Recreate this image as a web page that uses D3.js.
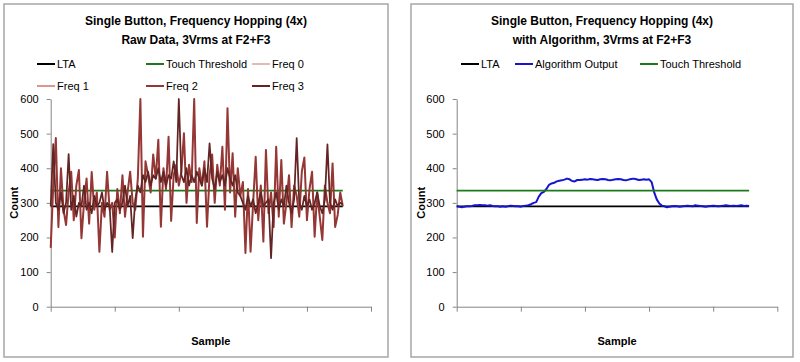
<!DOCTYPE html>
<html>
<head>
<meta charset="utf-8">
<script src="https://cdn.jsdelivr.net/npm/d3@7"></script>
<style>
  html, body { margin: 0; padding: 0; background: #fff; }
  svg { display: block; font-family: "Liberation Sans", Arial, sans-serif; }
</style>
</head>
<body>
<svg id="chart" width="800" height="362"></svg>
<script>
// ---------------- DATA ----------------
const sampleStep = 4;                 // samples between stored points
const xTicks = [0, 100, 200, 300, 400, 500];
const yTicks = [0, 100, 200, 300, 400, 500, 600];
const ltaValue = 290;
const touchThresholdValue = 335;

const leftTitle = ["Single Button, Frequency Hopping (4x)", "Raw Data, 3Vrms at F2+F3"];
const rightTitle = ["Single Button, Frequency Hopping (4x)", "with Algorithm, 3Vrms at F2+F3"];
const leftLegend = ["LTA", "Touch Threshold", "Freq 0", "Freq 1", "Freq 2", "Freq 3"];
const rightLegend = ["LTA", "Algorithm Output", "Touch Threshold"];

// Freq 0 / Freq 1 are hidden beneath Freq 2 / Freq 3 in the picture
const freq0 = [];
const freq1 = [];
const freq2 = [
  170,350,487,230,400,280,236,330,390,250,350,395,198,300,370,240,389,280,330,159,
  300,260,390,280,300,200,340,270,380,260,330,390,300,280,370,
  600,202,420,380,330,440,370,482,231,400,340,491,248,380,410,350,390,501,300,410,
  360,600,242,400,350,420,231,380,440,300,410,350,462,280,573,330,443,260,400,320,360,
  155,340,159,300,433,250,350,188,453,270,330,230,462,260,424,240,300,380,230,350,
  320,260,390,431,250,340,390,202,330,260,193,350,300,270,414,230,265,330,290
];
const freq3 = [
  290,470,300,280,330,270,300,441,280,320,260,300,290,350,280,300,270,320,290,300,
  330,280,300,290,158,300,310,280,300,350,290,320,198,310,350,
  330,380,360,390,350,380,370,400,360,390,350,380,370,420,360,600,380,360,400,350,
  380,360,390,370,350,400,360,472,370,340,390,360,380,350,400,370,350,380,330,320,300,
  280,320,290,310,270,300,330,290,300,310,140,300,330,280,310,290,350,300,270,310,
  487,300,280,320,290,310,280,300,330,290,270,310,469,300,280,310,290,300,295
];
const algorithmOutput = [
  290,289,287,289,290,290,291,293,293,294,293,293,292,293,291,290,290,289,290,289,
  290,292,291,290,290,289,291,292,293,296,300,302,318,328,332,340,352,356,358,362,
  364,365,367,370,368,363,362,366,366,367,368,367,369,368,367,366,368,369,368,366,
  365,367,368,369,368,366,365,367,369,370,368,366,367,368,367,368,360,330,310,298,
  292,290,287,289,290,291,290,289,290,291,292,291,290,293,292,291,290,289,290,291,
  292,291,290,291,292,293,292,291,292,291,292,293,291,292,291
];

// ---------------- DRAW ----------------
const svg = d3.select("#chart");
const axisColor = "#868686";
const colors = {
  LTA: "#000000",
  "Touch Threshold": "#1c7a1c",
  "Freq 0": "#e6b9b8",
  "Freq 1": "#d99694",
  "Freq 2": "#953735",
  "Freq 3": "#632523",
  "Algorithm Output": "#1515d0"
};

function panel(opt) {
  const g = svg.append("g");
  // frame
  g.append("rect")
    .attr("x", opt.frame[0]).attr("y", opt.frame[1])
    .attr("width", opt.frame[2] - opt.frame[0]).attr("height", opt.frame[3] - opt.frame[1])
    .attr("fill", "#fff").attr("stroke", "#a6a6a6").attr("stroke-width", 1.5);

  const x = d3.scaleLinear().domain([xTicks[0], xTicks[xTicks.length - 1]]).range([opt.left, opt.right]);
  const y = d3.scaleLinear().domain([yTicks[0], yTicks[yTicks.length - 1]]).range([opt.bottom, opt.top]);

  // title
  const cx = (opt.frame[0] + opt.frame[2]) / 2;
  opt.title.forEach((t, i) => {
    g.append("text").attr("x", cx).attr("y", 25 + i * 19)
      .attr("text-anchor", "middle").attr("font-weight", "bold").attr("font-size", 12)
      .attr("fill", "#000").text(t);
  });

  // axes
  const ya = g.append("g").attr("transform", `translate(${opt.left},0)`)
    .call(d3.axisLeft(y).tickValues(yTicks).tickSize(4).tickSizeOuter(0).tickPadding(8));
  const xa = g.append("g").attr("transform", `translate(0,${opt.bottom})`)
    .call(d3.axisBottom(x).tickValues(xTicks).tickSize(5).tickSizeOuter(0).tickFormat(""));
  [ya, xa].forEach(a => {
    a.select(".domain").attr("stroke", axisColor);
    a.selectAll(".tick line").attr("stroke", axisColor);
    a.selectAll("text").attr("font-size", 11).attr("fill", "#000")
      .attr("font-family", "Liberation Sans, Arial, sans-serif");
  });

  // axis titles
  g.append("text").attr("transform", `translate(${opt.countX},${(opt.top + opt.bottom) / 2}) rotate(-90)`)
    .attr("text-anchor", "middle").attr("dy", "0.35em").attr("font-weight", "bold").attr("font-size", 11)
    .text("Count");
  g.append("text").attr("x", (opt.left + opt.right) / 2).attr("y", 345)
    .attr("text-anchor", "middle").attr("font-weight", "bold").attr("font-size", 11)
    .text("Sample");

  // series
  const line = d3.line().x((d, i) => x(i * sampleStep)).y(d => y(d));
  const lastSample = (opt.nPoints - 1) * sampleStep;
  const drawSeries = (name, data, w) => {
    if (!data.length) return;
    g.append("path").datum(data).attr("d", line).attr("fill", "none")
      .attr("stroke", colors[name]).attr("stroke-width", w).attr("stroke-linejoin", "round");
  };
  const drawConst = (name, v, w) => {
    g.append("line").attr("x1", x(0)).attr("x2", x(lastSample))
      .attr("y1", y(v)).attr("y2", y(v)).attr("stroke", colors[name]).attr("stroke-width", w);
  };
  opt.draw(drawSeries, drawConst);

  // legend
  opt.legend.forEach((name, i) => {
    const p = opt.legendPos[i];
    g.append("line").attr("x1", p[0]).attr("x2", p[0] + 18).attr("y1", p[1]).attr("y2", p[1])
      .attr("stroke", colors[name]).attr("stroke-width", 2);
    g.append("text").attr("x", p[0] + 20).attr("y", p[1]).attr("dy", "0.35em")
      .attr("font-size", 11).attr("fill", "#000").text(name);
  });
}

panel({
  frame: [4, 4, 388, 357],
  left: 50.7, right: 371, top: 99, bottom: 306.7, countX: 14,
  title: leftTitle,
  nPoints: freq2.length,
  legend: leftLegend,
  legendPos: [[37, 64], [146, 64], [252, 64], [37, 86], [146, 86], [252, 86]],
  draw: (s, c) => {
    c("LTA", ltaValue, 1.75);
    c("Touch Threshold", touchThresholdValue, 1.75);
    s("Freq 0", freq0, 2);
    s("Freq 1", freq1, 2);
    s("Freq 2", freq2, 2);
    s("Freq 3", freq3, 1.75);
  }
});

panel({
  frame: [411, 4, 793, 357],
  left: 456.7, right: 777.3, top: 99, bottom: 306.7, countX: 420.7,
  title: rightTitle,
  nPoints: algorithmOutput.length,
  legend: rightLegend,
  legendPos: [[461, 64], [515, 64], [640, 64]],
  draw: (s, c) => {
    c("LTA", ltaValue, 1.75);
    s("Algorithm Output", algorithmOutput, 2);
    c("Touch Threshold", touchThresholdValue, 1.75);
  }
});
</script>
</body>
</html>
